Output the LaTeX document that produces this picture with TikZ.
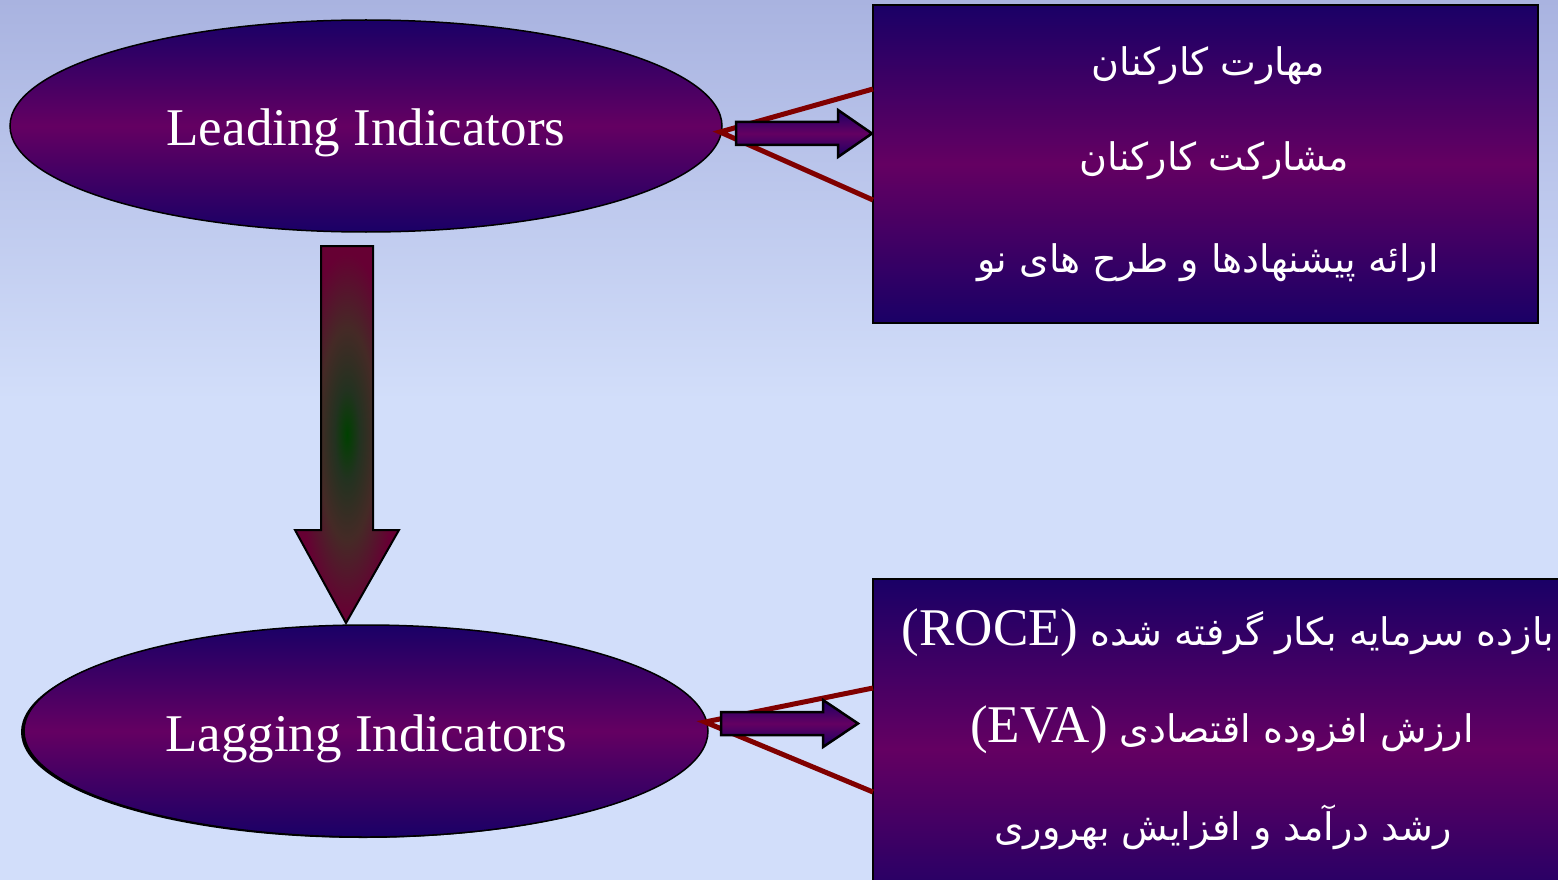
\documentclass[tikz,border=0pt]{standalone}
\usepackage{fontspec}
\setmainfont{Liberation Serif}
\newfontfamily\farsi[Script=Arabic]{DejaVu Sans}
\TeXXeTstate=1
\usetikzlibrary{shapes.geometric,shadows}

\definecolor{navy}{HTML}{1A0066}
\definecolor{plum}{HTML}{640062}
\definecolor{linkred}{HTML}{800000}
\definecolor{skytop}{HTML}{A9B3E0}
\definecolor{skylow}{HTML}{D2DEFA}
\definecolor{glowgreen}{HTML}{004000}
\definecolor{glowdark}{HTML}{233220}
\definecolor{glowmid}{HTML}{452A26}
\definecolor{glowouter}{HTML}{660033}

% green core fading to maroon; the path's box spans radius 25bp
\pgfdeclareradialshading{arrowglow}{\pgfpoint{0bp}{0bp}}{%
  color(0bp)=(glowgreen); color(6bp)=(glowdark); color(14bp)=(glowmid);
  color(24bp)=(glowouter); color(50bp)=(glowouter)}

\tikzset{
  oval/.style={ellipse, draw=black, line width=1.5pt, top color=navy, bottom color=navy,
    middle color=plum, inner sep=0pt},
  ovaltext/.style={anchor=base, text=white, inner sep=0pt, font=\fontsize{53}{60}\selectfont},
  panel/.style={rectangle, draw=black, line width=2pt, top color=navy, bottom color=navy,
    middle color=plum, inner sep=0pt},
  faline/.style={anchor=base, text=white, inner sep=0pt, font=\farsi\fontsize{38}{45}\selectfont},
  link/.style={draw=linkred, line width=5pt},
  blockarrow/.style={draw=black, line width=2.5pt, line join=miter, top color=navy,
    bottom color=navy, middle color=plum},
  bigarrow/.style={draw=black, line width=2pt, line join=miter, shading=arrowglow}
}
\newcommand{\latin}[1]{\beginL{\rmfamily\fontsize{53}{60}\selectfont #1}\endL}

\begin{document}
\begin{tikzpicture}[x=1pt,y=-1pt]
  \useasboundingbox (0,0) rectangle (1558,880);
  \clip (0,0) rectangle (1558,880);

  % background
  \shade[top color=skytop, bottom color=skylow] (0,0) rectangle (1558,400);
  \fill[skylow] (0,399) rectangle (1558,880);

  % indicator ovals
  \node[oval, minimum width=712pt, minimum height=212pt] (lead) at (366,126) {};
  \node[ovaltext] (leadtxt) at (366,146) {Leading Indicators};
  \node[oval, minimum width=684pt, minimum height=212pt,
        drop shadow={shadow xshift=-3pt, shadow yshift=-1pt, opacity=1, fill=black}]
        (lag) at (366,731) {};
  \node[ovaltext] (lagtxt) at (366,751) {Lagging Indicators};

  % panels
  \node[panel, minimum width=665pt, minimum height=318pt] (topbox) at (1205.5,164) {};
  \node[panel, minimum width=720pt, minimum height=340pt] (lowbox) at (1233,749) {};

  % panel texts
  \node[faline] (k1) at (1208,76) {\beginR مهارت کارکنان\endR};
  \node[faline] (k2) at (1214,170) {\beginR مشارکت کارکنان\endR};
  \node[faline] (k3) at (1208,272) {\beginR ارائه پیشنهادها و طرح های نو\endR};
  \node[faline] (m1) at (1228,645) {\beginR بازده سرمایه بکار گرفته شده \latin{(ROCE)}\endR};
  \node[faline] (m2) at (1222,742) {\beginR ارزش افزوده اقتصادی \latin{(EVA)}\endR};
  \node[faline] (m3) at (1223,840) {\beginR رشد درآمد و افزایش بهروری\endR};

  % fan connectors
  \coordinate (lj) at (720,132);
  \coordinate (ta) at (873,89);
  \coordinate (tb) at (873,200);
  \coordinate (gj) at (705,722);
  \coordinate (ga) at (873,688);
  \coordinate (gb) at (873,792);
  \draw[link] (ta) -- (lj) -- (tb);
  \draw[link] (ga) -- (gj) -- (gb);

  % block arrows
  \path[blockarrow] (736,122) -- (838,122) -- (838,110) -- (872,133.5) -- (838,157)
        -- (838,145) -- (736,145) -- cycle;
  \path[blockarrow] (721,712) -- (823,712) -- (823,700) -- (858,723.5) -- (823,747)
        -- (823,735) -- (721,735) -- cycle;

  % downward arrow between the ovals
  \path[bigarrow] (321,246) -- (373,246) -- (373,530) -- (399,530) -- (346,623)
        -- (295,530) -- (321,530) -- cycle;
\end{tikzpicture}
\end{document}
